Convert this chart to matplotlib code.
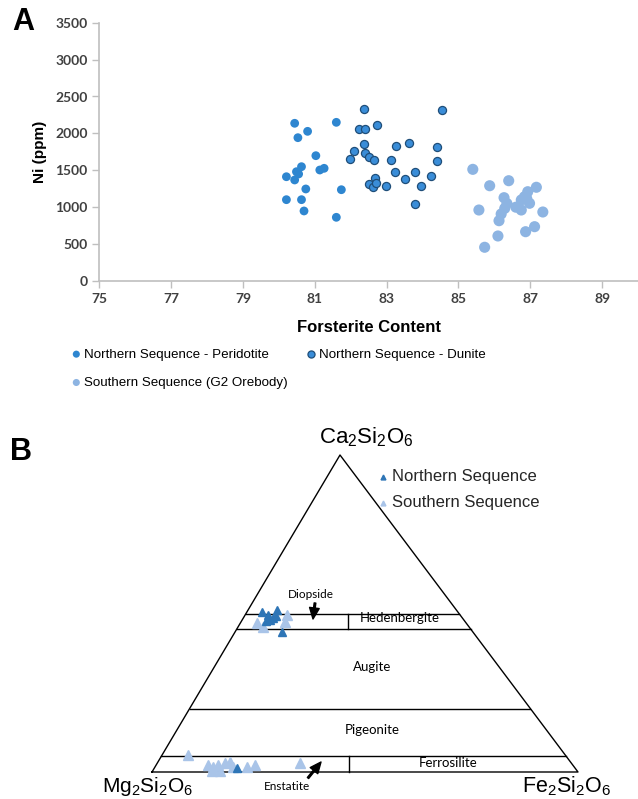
import numpy as np
import matplotlib.pyplot as plt

plt.rcParams['font.family'] = ['Liberation Sans', 'DejaVu Sans']
plt.rcParams['mathtext.default'] = 'regular'

# %% panel A data: forsterite content vs Ni (ppm)
perid_fo = [80.44, 80.80, 80.53, 81.60, 81.03, 80.63, 80.49, 80.21, 80.44, 81.14,
            81.26, 80.75, 81.74, 80.21, 80.63, 80.70, 81.60, 80.55]
perid_ni = [2137, 2028, 1942, 2150, 1698, 1549, 1481, 1413, 1369, 1504,
            1527, 1247, 1237, 1102, 1102, 949, 863, 1450]

dunite_fo = [82.37, 84.55, 82.23, 82.41, 82.72, 82.37, 83.25, 83.61, 84.41, 82.10,
             81.97, 82.41, 82.50, 82.65, 83.11, 84.41, 83.22, 83.78, 84.25, 82.68,
             83.51, 82.50, 82.62, 82.70, 82.98, 83.95, 83.78]
dunite_ni = [2335, 2317, 2056, 2056, 2118, 1856, 1829, 1874, 1812, 1757,
             1657, 1730, 1676, 1644, 1644, 1626, 1477, 1477, 1419, 1400,
             1382, 1314, 1270, 1324, 1283, 1287, 1043]

south_fo = [85.40, 85.87, 86.40, 87.17, 86.93, 86.84, 86.75, 86.98, 86.75, 86.27,
            86.29, 86.19, 86.13, 85.57, 87.35, 87.12, 86.87, 86.10, 85.73, 86.60,
            86.90, 86.35]
south_ni = [1513, 1291, 1359, 1270, 1210, 1142, 1098, 1053, 962, 1129,
            985, 908, 817, 962, 935, 736, 668, 610, 457, 1000,
            1120, 1050]

# %% panel B data: pyroxene compositions (Wo, Fs in mol %)
north_wo = [50.5, 51.1, 48.6, 49.5, 44.3, 48.0, 49.2, 47.6, 1.3]
north_fs = [3.5, 6.8, 7.0, 5.4, 11.0, 6.5, 7.4, 5.8, 19.4]

south_wo = [47.0, 45.7, 47.3, 49.5, 5.4, 2.2, 1.6, 2.2, 2.8, 3.2,
            1.6, 1.6, 2.2, 2.8, 0.3, 0.3]
south_fs = [3.9, 5.9, 10.4, 9.8, 6.1, 12.2, 13.6, 14.5, 15.9, 16.9,
            18.3, 21.6, 23.2, 33.5, 13.9, 15.8]

W, H = 638, 799
fig = plt.figure(figsize=(W / 100, H / 100), dpi=100)

# %% panel A
ax = fig.add_axes([99.3 / W, 1 - 281 / H, 1 - 99.3 / W, (281 - 22.7) / H])
ax.scatter(perid_fo, perid_ni, s=40, color='#2E86D0', edgecolors='none',
           label='Northern Sequence - Peridotite', zorder=3)
ax.scatter(dunite_fo, dunite_ni, s=34, color='#3A8DD8', edgecolors='#1F4E79',
           linewidths=0.9, label='Northern Sequence - Dunite', zorder=3)
ax.scatter(south_fo, south_ni, s=64, color='#8DB4E2', edgecolors='none',
           label='Southern Sequence (G2 Orebody)', zorder=3)

ax.set_xlim(75, 90)
ax.set_ylim(0, 3500)
ax.set_xticks(np.arange(75, 90, 2))
ax.set_yticks(np.arange(0, 3501, 500))
for s in ['top', 'right']:
    ax.spines[s].set_visible(False)
for s in ['left', 'bottom']:
    ax.spines[s].set_color('#BFBFBF')
    ax.spines[s].set_linewidth(1.2)
ax.tick_params(colors='#BFBFBF', length=5, width=1, labelcolor='#404040')
for lab in ax.get_xticklabels() + ax.get_yticklabels():
    lab.set_family(['Lato', 'DejaVu Sans'])
    lab.set_fontweight('bold')
    lab.set_fontsize(10)
ax.set_xlabel('Forsterite Content', fontsize=12, fontweight='bold', labelpad=11)
ax.set_ylabel('Ni (ppm)', fontsize=11, fontweight='bold', labelpad=6)

h, l = ax.get_legend_handles_labels()
order = [0, 2, 1]
leg = ax.legend([h[i] for i in order], [l[i] for i in order], ncol=2,
                loc='upper left', bbox_to_anchor=(-0.060, -0.24), frameon=False,
                fontsize=9.6, handlelength=0.6, handletextpad=0.3,
                columnspacing=1.4, labelspacing=1.2, borderaxespad=0)
for hd in leg.legend_handles:
    hd.set_sizes([26])

fig.text(12 / W, 1 - 22 / H, 'A', fontsize=22, fontweight='bold', va='center')
fig.text(10 / W, 1 - 452 / H, 'B', fontsize=22, fontweight='bold', va='center')

# %% panel B: ternary drawn in pixel space
bx = fig.add_axes([0, 0, 1, 1])
bx.set_xlim(0, W)
bx.set_ylim(H, 0)
bx.axis('off')
bx.patch.set_alpha(0)

top = np.array([340.0, 455.0])    # Ca2Si2O6
left = np.array([152.0, 772.0])   # Mg2Si2O6
right = np.array([578.0, 772.0])  # Fe2Si2O6


def tern(wo, fs):
    wo = np.asarray(wo, dtype=float) / 100
    fs = np.asarray(fs, dtype=float) / 100
    en = 1 - wo - fs
    p = np.multiply.outer(wo, top) + np.multiply.outer(en, left) + np.multiply.outer(fs, right)
    return p[..., 0], p[..., 1]


tri = np.array([left, right, top, left])
bx.plot(tri[:, 0], tri[:, 1], color='black', lw=1)

for wo in [5, 20, 45, 50]:
    x0, y0 = tern(wo, 0)
    x1, y1 = tern(wo, 100 - wo)
    bx.plot([x0, x1], [y0, y1], color='black', lw=1)
# Di/Hd and En/Fs dividers
for wa, wb, fs in [(45, 50, 25.0), (0, 5, 45.1)]:
    xd, _ = tern((wa + wb) / 2, fs)
    _, ya = tern(wa, 0)
    _, yb = tern(wb, 0)
    bx.plot([xd, xd], [ya, yb], color='black', lw=1)

box_kw = dict(family=['Lato', 'DejaVu Sans'], fontsize=9.5, ha='center', va='center')
bx.text(400, 618, 'Hedenbergite', **box_kw)
bx.text(372, 667, 'Augite', **box_kw)
bx.text(372, 730, 'Pigeonite', **box_kw)
bx.text(448, 763, 'Ferrosilite', **box_kw)

lbl_kw = dict(family=['Lato', 'DejaVu Sans'], fontsize=8.5, ha='center', va='center')
arrow = dict(facecolor='black', edgecolor='black', width=1.2, headwidth=7,
             headlength=8, shrink=0)
bx.text(311, 594, 'Diopside', **lbl_kw)
bx.annotate('', xy=(313, 619), xytext=(315, 603), arrowprops=arrow)
bx.text(287, 786, 'Enstatite', **lbl_kw)
bx.annotate('', xy=(321, 762), xytext=(308, 778), arrowprops=arrow)

bx.text(366, 437, 'Ca$_2$Si$_2$O$_6$', fontsize=16, ha='center', va='center')
bx.text(148, 786, 'Mg$_2$Si$_2$O$_6$', fontsize=15, ha='center', va='center')
bx.text(567, 786, 'Fe$_2$Si$_2$O$_6$', fontsize=15.5, ha='center', va='center')

sx, sy = tern(south_wo, south_fs)
bx.plot(sx, sy, '^', ms=7, color='#A9C4E8', ls='none', zorder=3)
nx, ny = tern(north_wo, north_fs)
bx.plot(nx, ny, '^', ms=6, color='#2E75B6', ls='none', zorder=4)

bx.plot([383], [477], '^', ms=3.5, color='#2E75B6')
bx.plot([383], [503], '^', ms=3.5, color='#A9C4E8')
bx.text(392, 477, 'Northern Sequence', fontsize=12, va='center', color='#262626')
bx.text(392, 503, 'Southern Sequence', fontsize=12, va='center', color='#262626')

fig.savefig('out.png', dpi=100)
